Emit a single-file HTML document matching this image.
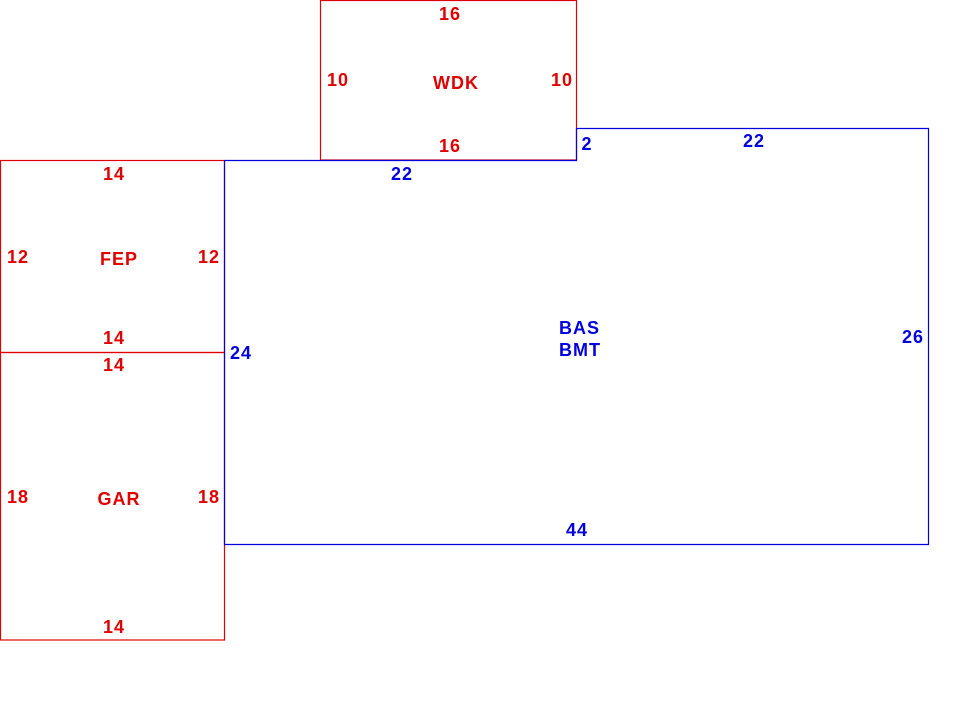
<!DOCTYPE html>
<html><head><meta charset="utf-8"><style>
html,body{margin:0;padding:0;background:#fff;width:980px;height:702px;overflow:hidden}
svg text{font-family:"Liberation Sans",Arial,sans-serif;font-weight:bold;font-size:18px;text-anchor:middle;letter-spacing:1px}
.r{fill:#e00000}.b{fill:#0000e0}
</style></head><body>
<svg width="980" height="702" viewBox="0 0 980 702" xmlns="http://www.w3.org/2000/svg">
<g fill="none" stroke-width="1.2">
<rect x="320.5" y="0.5" width="256" height="159.5" stroke="#e00000"/>
<rect x="0.5" y="160.5" width="224" height="192" stroke="#e00000"/>
<rect x="0.5" y="352.5" width="224" height="287.5" stroke="#e00000"/>
<polyline points="224.5,160.5 576.5,160.5 576.5,128.5 928.5,128.5 928.5,544.5 224.5,544.5 224.5,160.5" stroke="#0000e0"/>
</g>
<g class="r">
<text x="450" y="20">16</text>
<text x="338" y="86">10</text>
<text x="456" y="89">WDK</text>
<text x="562" y="86">10</text>
<text x="450" y="152">16</text>
<text x="114" y="180">14</text>
<text x="18" y="263">12</text>
<text x="119" y="265">FEP</text>
<text x="209" y="263">12</text>
<text x="114" y="344">14</text>
<text x="114" y="371">14</text>
<text x="18" y="503">18</text>
<text x="119" y="505">GAR</text>
<text x="209" y="503">18</text>
<text x="114" y="633">14</text>
</g>
<g class="b">
<text x="587" y="150">2</text>
<text x="754" y="147">22</text>
<text x="402" y="180">22</text>
<text x="241" y="359">24</text>
<text x="559" y="334" style="text-anchor:start">BAS</text>
<text x="559" y="356" style="text-anchor:start">BMT</text>
<text x="913" y="343">26</text>
<text x="577" y="536">44</text>
</g>
</svg>
</body></html>
